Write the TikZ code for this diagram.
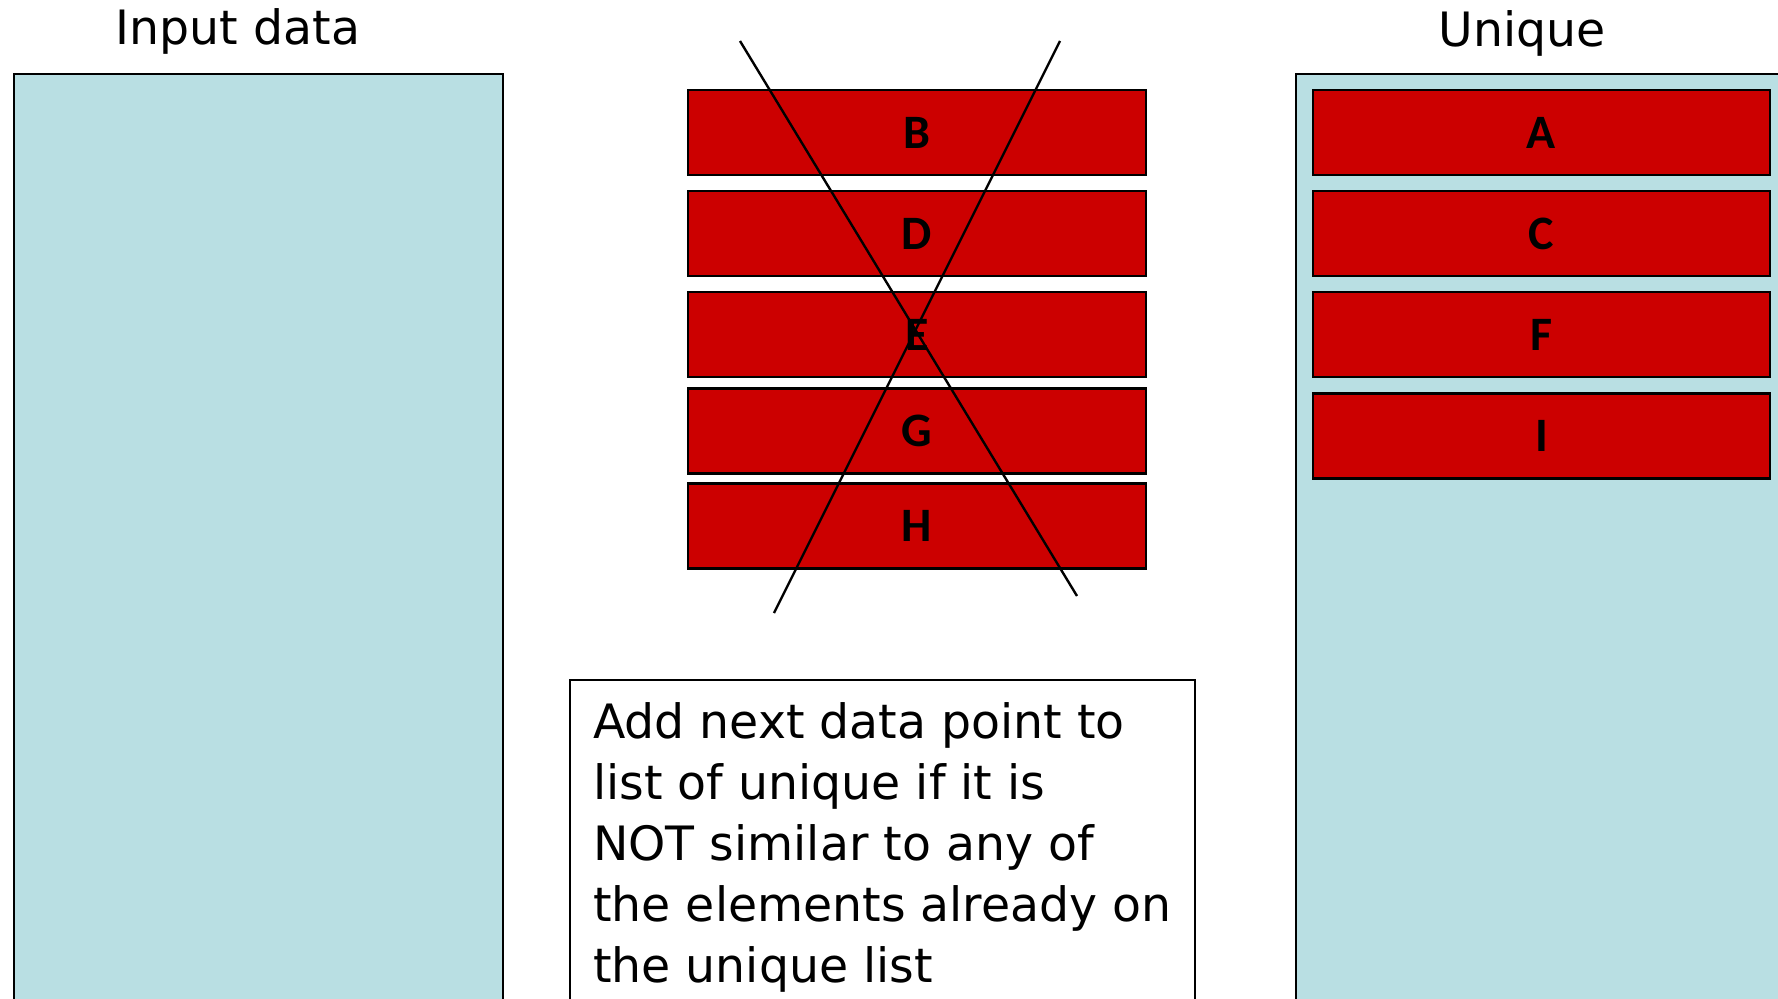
\documentclass[tikz,border=0pt]{standalone}
\usepackage{fontspec}
\setmainfont{DejaVu Sans}
\newfontfamily\letterfont{Carlito}
\definecolor{cellred}{HTML}{CC0000}
\definecolor{panelblue}{HTML}{B9DFE3}
\begin{document}
\begin{tikzpicture}[x=0.75pt,y=-0.75pt,
  panel/.style={draw=black,line width=1.6pt,fill=panelblue,inner sep=0pt,outer sep=0pt},
  cell/.style={draw=black,line width=2pt,fill=cellred,inner sep=0pt,outer sep=0pt,
    minimum width=343.5pt,minimum height=63.75pt,font=\letterfont\bfseries\fontsize{36}{40}\selectfont},
  title/.style={anchor=base,inner sep=0pt,font=\fontsize{35.5}{40}\selectfont},
  cross/.style={draw=black,line width=1.8pt}]
\useasboundingbox (0,0) rectangle (1778,999);
% panels
\node[panel,minimum width=366.75pt,minimum height=705pt] (inpanel) at (258.5,544) {};
\node[panel,minimum width=370.5pt,minimum height=705pt] (uniqpanel) at (1543,544) {};
\node[title] (intitle) at (238,45) {Input data};
\node[title] (uniqtitle) at (1522,47) {Unique};
% middle column
\node[cell] (B) at (917,132.5) {B};
\node[cell] (D) at (917,233.5) {D};
\node[cell] (E) at (917,334.5) {E};
\node[cell] (G) at (917,431) {G};
\node[cell] (H) at (917,526) {H};
% cross
\coordinate (c1a) at (740,41);
\coordinate (c1b) at (1077,596);
\coordinate (c2a) at (1060,41);
\coordinate (c2b) at (774,613);
\draw[cross] (c1a) -- (c1b);
\draw[cross] (c2a) -- (c2b);
% unique column
\node[cell,minimum width=342.75pt] (A) at (1541.5,132.5) {A};
\node[cell,minimum width=342.75pt] (C) at (1541.5,233.5) {C};
\node[cell,minimum width=342.75pt] (F) at (1541.5,334.5) {F};
\node[cell,minimum width=342.75pt] (I) at (1541.5,436) {I};
% text box
\node[draw=black,line width=1.5pt,fill=white,inner sep=0pt,outer sep=0pt,
  minimum width=468.75pt,minimum height=247.5pt] (rulebox) at (882.5,845) {};
\node[anchor=base west,inner sep=0pt,align=left,
  font=\fontsize{35.5}{45.75}\selectfont] (ruletext) at (593,982)
  {Add next data point to\\list of unique if it is\\NOT similar to any of\\the elements already on\\the unique list};
\end{tikzpicture}
\end{document}
